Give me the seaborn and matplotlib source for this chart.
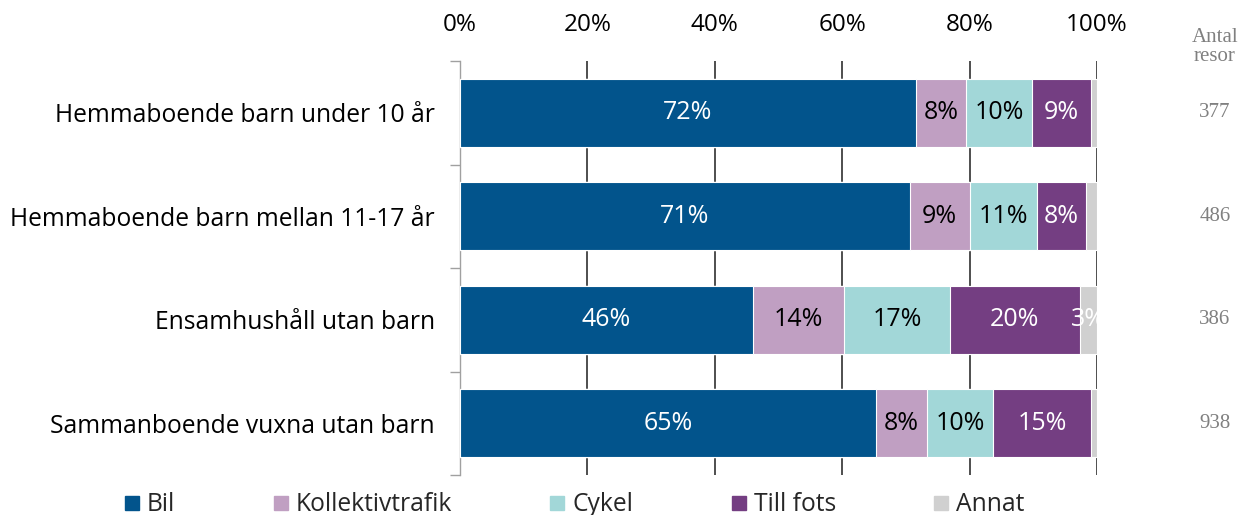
import pandas as pd
import numpy as np
import matplotlib.pyplot as plt
import seaborn as sns
from matplotlib.lines import Line2D

grupper = [
    "Hemmaboende barn under 10 år",
    "Hemmaboende barn mellan 11-17 år",
    "Ensamhushåll utan barn",
    "Sammanboende vuxna utan barn",
]
bil = [71.6, 70.6, 46.0, 65.3]
kollektivtrafik = [7.8, 9.4, 14.3, 8.0]
cykel = [10.4, 10.6, 16.6, 10.4]
till_fots = [9.3, 7.6, 20.4, 15.3]
annat = [0.9, 1.8, 2.7, 1.0]
antal_resor = [377, 486, 386, 938]

fardsatt = ["Bil", "Kollektivtrafik", "Cykel", "Till fots", "Annat"]
farger = ["#02548C", "#C09FC2", "#A2D7D8", "#743E82", "#D0D0D0"]
textfarg = ["white", "black", "black", "white", "white"]

df = pd.DataFrame({
    "grupp": grupper,
    "Bil": bil,
    "Kollektivtrafik": kollektivtrafik,
    "Cykel": cykel,
    "Till fots": till_fots,
    "Annat": annat,
})
cum = df[fardsatt].cumsum(axis=1)
cum["grupp"] = df["grupp"]

sns.set_theme(style="white")
plt.rcParams["font.family"] = ["Open Sans", "DejaVu Sans"]

fig = plt.figure(figsize=(12.41, 5.15), dpi=100)
ax = fig.add_axes([460 / 1241, 1 - 475 / 515, 637 / 1241, 414 / 515])

# stacked bars: draw cumulative sums from the back
for namn, farg in reversed(list(zip(fardsatt, farger))):
    sns.barplot(data=cum, x=namn, y="grupp", color=farg, orient="h", saturation=1,
                width=0.66, edgecolor="white", linewidth=0.8, ax=ax, zorder=3)

# value labels
for i in range(len(grupper)):
    start = 0
    for j, namn in enumerate(fardsatt):
        v = df.loc[i, namn]
        if round(v) >= 3:
            ax.text(start + v / 2, i, f"{round(v)}%", ha="center", va="center",
                    color=textfarg[j], fontsize=18, zorder=5, clip_on=False)
        start += v

ax.set_xlim(0, 100)
ax.set_ylim(3.5, -0.5)
ax.set_xlabel("")
ax.set_ylabel("")
ax.xaxis.tick_top()
ax.set_xticks(range(0, 101, 20))
ax.set_xticklabels([f"{v}%" for v in range(0, 101, 20)], fontsize=17.5)
ax.tick_params(axis="x", length=0, pad=17, colors="black")
ax.set_yticks(range(len(grupper)))
ax.set_yticklabels(grupper, fontsize=17.7)
ax.set_yticks([-0.5, 0.5, 1.5, 2.5, 3.5], minor=True)
ax.tick_params(axis="y", which="major", length=0, pad=18, colors="black")
ax.tick_params(axis="y", which="minor", left=True, length=7, width=1, color="#A0A0A0")

ax.set_axisbelow(True)
ax.xaxis.grid(True, color="#303030", linewidth=1.2, zorder=0)
ax.yaxis.grid(False)
for s in ["top", "right", "bottom"]:
    ax.spines[s].set_visible(False)
ax.spines["left"].set_color("#A0A0A0")
ax.spines["left"].set_linewidth(1)

# antal resor column
ax.text(1.185, 1.035, "Antal\nresor", transform=ax.transAxes, ha="center", va="center",
        fontsize=15, color="#808080", family="Liberation Serif", linespacing=1.0)
for i, n in enumerate(antal_resor):
    ax.text(1.185, i, str(n), transform=ax.get_yaxis_transform(), ha="center", va="center",
            fontsize=15, color="#808080", family="Liberation Serif")

handles = [Line2D([], [], marker="s", linestyle="", markersize=10, color=f) for f in farger]
fig.legend(handles, fardsatt, loc="center", bbox_to_anchor=(0.462, 0.02), ncol=5,
           frameon=False, fontsize=17.7, handletextpad=0.2, columnspacing=3.9,
           handlelength=0.8)

fig.savefig("out.png", dpi=100)
